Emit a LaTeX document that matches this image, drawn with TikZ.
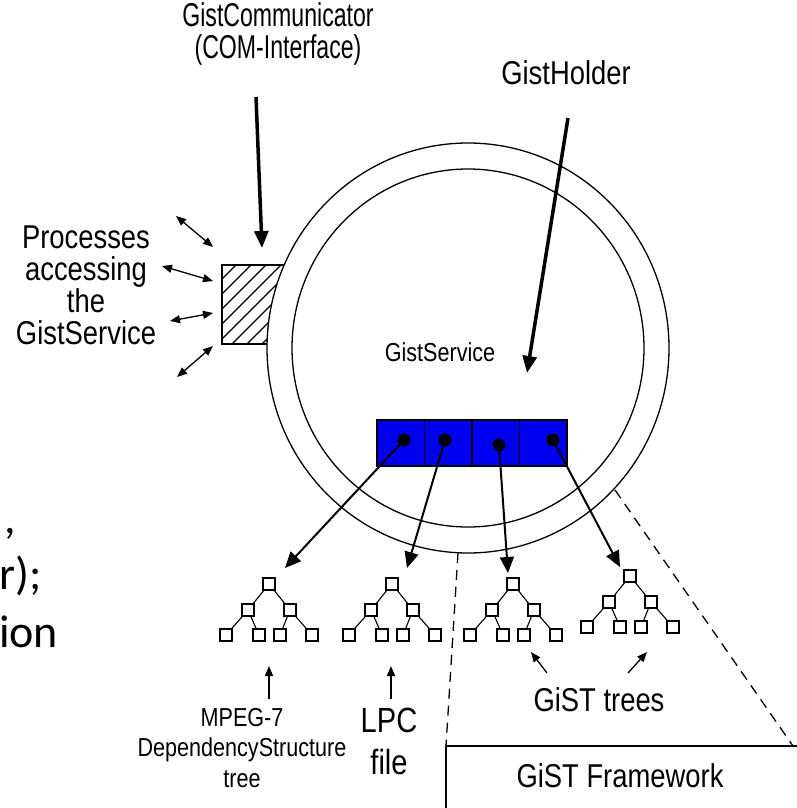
\documentclass[tikz,border=0pt]{standalone}
\usepackage{fontspec}
\usepackage{xcolor}
\usepackage{tikz}
\usetikzlibrary{arrows.meta}

\newfontfamily\gistfont{Liberation Sans}[FakeStretch=0.83]
\newfontfamily\gistnarrow{Liberation Sans}[FakeStretch=0.70]
\newfontfamily\pagefont{Carlito}
\definecolor{cellblue}{RGB}{0,0,240}

% one GiST tree: name, x and y of the root
\newcommand{\gisttree}[3]{%
    \node[leaf] (#1r) at (#2,#3) {};
    \node[leaf] (#1a) at (#2-21,#3+26) {};
    \node[leaf] (#1b) at (#2+21,#3+26) {};
    \node[leaf] (#1a1) at (#2-43,#3+51) {};
    \node[leaf] (#1a2) at (#2-10,#3+51) {};
    \node[leaf] (#1b1) at (#2+11,#3+51) {};
    \node[leaf] (#1b2) at (#2+43,#3+51) {};
    \draw[twig] (#1r) -- (#1a) (#1r) -- (#1b)
        (#1a) -- (#1a1) (#1a) -- (#1a2) (#1b) -- (#1b1) (#1b) -- (#1b2);
}

\begin{document}
\begin{tikzpicture}[x=1pt,y=-1pt,
    rim/.style={line width=1.3pt},
    leaf/.style={draw,line width=1.3pt,minimum size=12pt,inner sep=0pt},
    twig/.style={line width=1.1pt},
    cell/.style={draw,line width=1.3pt,fill=cellblue,minimum width=47.5pt,minimum height=46pt,inner sep=0pt},
    knob/.style={circle,fill=black,minimum size=13pt,inner sep=0pt},
    gisttext/.style={font=\gistfont\fontsize{33}{32}\selectfont,align=center,inner sep=0pt},
    smalltext/.style={font=\gistfont\fontsize{26}{30.5}\selectfont,align=center,inner sep=0pt},
    pagetext/.style={font=\pagefont\fontsize{46}{56}\selectfont,anchor=base west,inner sep=0pt},
    bigarrow/.style={line width=3.5pt,-{Triangle[length=17pt,width=14pt]}},
    dotarrow/.style={line width=2pt,-{Triangle[length=16pt,width=14pt]}},
    smallarrow/.style={line width=1.3pt,-{Triangle[length=10pt,width=8pt]}},
    bothways/.style={line width=1.3pt,{Triangle[length=10pt,width=8pt]}-{Triangle[length=10pt,width=8pt]}},
    zoomline/.style={line width=1.3pt,dash pattern=on 10pt off 7pt}]

    \useasboundingbox[fill=white] (0,0) rectangle (796,808);

    % text of the page behind the figure
    \node[pagetext] (pg1) at (4,533) {,};
    \node[pagetext] (pg2) at (-1,589) {r);};
    \node[pagetext] (pg3) at (-1,647) {ion};

    % hatched COM interface
    \begin{scope}
        \clip (222,265) rectangle (300,344);
        \foreach \k in {0,...,10}
            \draw[line width=1.1pt] (222+15*\k-80,344) -- ++(80,-80);
    \end{scope}
    \draw[rim] (300,265) -- (222,265) -- (222,344) -- (300,344);

    % GistHolder rings
    \fill[white] (468,348) ellipse [x radius=201pt, y radius=205pt];
    \draw[rim] (468,348) ellipse [x radius=201pt, y radius=205pt];
    \draw[rim] (468,348) ellipse [x radius=176pt, y radius=179pt];

    \node[smalltext] (svc) at (440,352) {GistService};

    % blue table with the tree handles
    \foreach \i in {1,...,4}
        \node[cell] (c\i) at (377+47.5*\i-23.75,443) {};
    \node[knob] (d1) at (404,440) {};
    \node[knob] (d2) at (445,440) {};
    \node[knob] (d3) at (499,445) {};
    \node[knob] (d4) at (553,440) {};

    % the trees
    \gisttree{t1}{269}{584}
    \gisttree{t2}{392}{584}
    \gisttree{t3}{513}{584}
    \gisttree{t4}{630}{576}

    \draw[dotarrow] (d1) -- ([shift={(16,-16)}]t1r.center);
    \draw[dotarrow] (d2) -- ([shift={(15,-16)}]t2r.center);
    \draw[dotarrow] (d3) -- ([shift={(-5,-11)}]t3r.center);
    \draw[dotarrow] (d4) -- ([shift={(-10,-9)}]t4r.center);

    % GiST framework
    \coordinate (rimA) at (458,553);
    \coordinate (rimB) at (615,490);
    \coordinate (frameA) at (446,746);
    \coordinate (frameB) at (793,746);
    \draw[zoomline] (rimA) -- (frameA);
    \draw[zoomline] (rimB) -- (frameB);
    \draw[rim] (446,810) -- (frameA) -- (797,746);
    \node[gisttext] (frame) at (620,776) {GiST Framework};

    % labels on top
    \node[gisttext,font=\gistnarrow\fontsize{33}{32}\selectfont] (comm) at (278,34) {GistCommunicator\\(COM-Interface)};
    \node[gisttext] (holder) at (566,73) {GistHolder};
    \coordinate (commtail) at (256,97);
    \coordinate (commtip) at (262,248);
    \draw[bigarrow] (commtail) -- (commtip);
    \coordinate (holdtail) at (568,118);
    \coordinate (holdtip) at (527,373);
    \draw[bigarrow] (holdtail) -- (holdtip);

    % processes
    \node[gisttext] (proc) at (86,285) {Processes\\accessing\\the\\GistService};
    \coordinate (p1) at (176,216);  \coordinate (q1) at (213,247);
    \coordinate (p2) at (162,266);  \coordinate (q2) at (213,281);
    \coordinate (p3) at (170,321);  \coordinate (q3) at (213,313);
    \coordinate (p4) at (177,377);  \coordinate (q4) at (213,346);
    \foreach \i in {1,...,4}
        \draw[bothways] (p\i) -- (q\i);

    % tree captions
    \node[smalltext] (mpeg) at (242,748) {MPEG-7\\DependencyStructure\\tree};
    \node[gisttext,font=\gistfont\fontsize{35}{42}\selectfont] (lpc) at (389,741) {LPC\\file};
    \node[gisttext] (gtrees) at (599,700) {GiST trees};
    \coordinate (m1) at (269,699);  \coordinate (m2) at (269,666);
    \coordinate (l1) at (391,699);  \coordinate (l2) at (391,666);
    \coordinate (g1) at (547,673);  \coordinate (g2) at (531,652);
    \coordinate (h1) at (628,673);  \coordinate (h2) at (647,652);
    \draw[smallarrow] (m1) -- (m2);
    \draw[smallarrow] (l1) -- (l2);
    \draw[smallarrow] (g1) -- (g2);
    \draw[smallarrow] (h1) -- (h2);
\end{tikzpicture}
\end{document}
